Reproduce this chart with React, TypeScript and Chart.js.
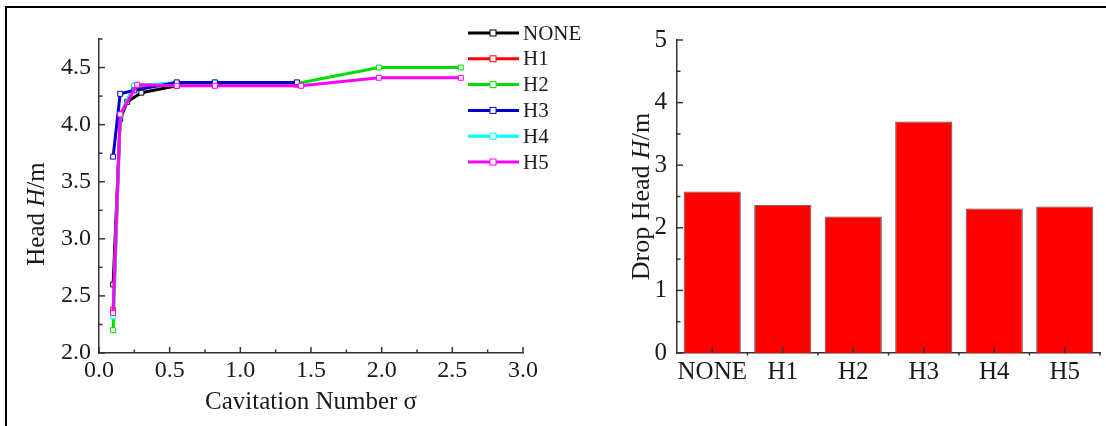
import React, { useEffect, useRef } from "react";
import { Chart, registerables } from "chart.js";
Chart.register(...registerables);

const FONT = "Liberation Serif, Times New Roman, serif";
Chart.defaults.font.family = FONT;
const TEXT = "#1a1a1a";
const AXIS = "#333333";

// ---------- left chart data ----------
const seriesNames = ["NONE", "H1", "H2", "H3", "H4", "H5"];
const seriesColors = ["#000000", "#ff0000", "#00dd00", "#0000cc", "#00ffff", "#ff00ff"];
const seriesOrder = [5, 4, 3, 1, 2, 0];

const noneSigma = [0.1, 0.15, 0.2, 0.3, 0.55, 0.82, 1.4];
const noneHead = [2.6, 4.05, 4.2, 4.28, 4.34, 4.36, 4.36];
const h1Sigma = [0.1, 0.15, 0.25, 0.55, 0.82, 1.4];
const h1Head = [2.38, 4.09, 4.33, 4.35, 4.35, 4.35];
const h2Sigma = [0.1, 0.15, 0.25, 0.55, 0.82, 1.4, 1.98, 2.56];
const h2Head = [2.2, 4.08, 4.34, 4.36, 4.36, 4.36, 4.5, 4.5];
const h3Sigma = [0.1, 0.15, 0.25, 0.55, 0.82, 1.4];
const h3Head = [3.72, 4.27, 4.3, 4.37, 4.37, 4.37];
const h4Sigma = [0.1, 0.15, 0.25, 0.55, 0.82, 1.4];
const h4Head = [2.32, 4.09, 4.34, 4.37, 4.37, 4.37];
const h5Sigma = [0.1, 0.15, 0.27, 0.55, 0.82, 1.43, 1.98, 2.56];
const h5Head = [2.35, 4.09, 4.35, 4.34, 4.34, 4.34, 4.41, 4.41];

const sigmaLists = [noneSigma, h1Sigma, h2Sigma, h3Sigma, h4Sigma, h5Sigma];
const headLists = [noneHead, h1Head, h2Head, h3Head, h4Head, h5Head];

const sigmaMin = 0;
const sigmaMax = 3;
const sigmaStep = 0.5;
const headMin = 2;
const headMax = 4.75;
const headStep = 0.5;

// ---------- right chart data ----------
const dropCategories = ["NONE", "H1", "H2", "H3", "H4", "H5"];
const dropHead = [2.58, 2.37, 2.18, 3.7, 2.31, 2.34];
const dropMin = 0;
const dropMax = 5;
const dropStep = 1;

type Part = { text: string; italic?: boolean };

function drawRich(ctx: CanvasRenderingContext2D, parts: Part[], size: number, cx: number, cy: number, rotate: boolean) {
  ctx.save();
  ctx.translate(cx, cy);
  if (rotate) ctx.rotate(-Math.PI / 2);
  const fonts = parts.map((p) => `${p.italic ? "italic " : ""}${size}px ${FONT}`);
  let total = 0;
  const widths = parts.map((p, i) => {
    ctx.font = fonts[i];
    const w = ctx.measureText(p.text).width;
    total += w;
    return w;
  });
  let x = -total / 2;
  ctx.textBaseline = "middle";
  ctx.textAlign = "left";
  ctx.fillStyle = TEXT;
  parts.forEach((p, i) => {
    ctx.font = fonts[i];
    ctx.fillText(p.text, x, 0);
    x += widths[i];
  });
  ctx.restore();
}

function line(ctx: CanvasRenderingContext2D, x1: number, y1: number, x2: number, y2: number) {
  ctx.beginPath();
  ctx.moveTo(x1, y1);
  ctx.lineTo(x2, y2);
  ctx.stroke();
}

const leftDecor = {
  id: "leftDecor",
  afterDraw(chart: any) {
    const ctx = chart.ctx as CanvasRenderingContext2D;
    const { left, right, top, bottom } = chart.chartArea;
    const xs = chart.scales.x;
    const ys = chart.scales.y;
    ctx.save();
    ctx.strokeStyle = AXIS;
    ctx.lineWidth = 1.5;
    for (let v = sigmaMin; v <= sigmaMax + 1e-9; v += sigmaStep / 2) {
      const major = Math.abs(v / sigmaStep - Math.round(v / sigmaStep)) < 1e-6;
      const p = xs.getPixelForValue(v);
      line(ctx, p, bottom, p, bottom - (major ? 6 : 3.5));
    }
    for (let v = headMin; v <= headMax + 1e-9; v += headStep / 2) {
      const major = Math.abs((v - headMin) / headStep - Math.round((v - headMin) / headStep)) < 1e-6;
      const p = ys.getPixelForValue(v);
      line(ctx, left, p, left + (major ? 6 : 3.5), p);
    }
    ctx.restore();

    drawRich(ctx, [{ text: "Head " }, { text: "H", italic: true }, { text: "/m" }], 25, left - 62, (top + bottom) / 2 + 18, true);
    drawRich(ctx, [{ text: "Cavitation Number σ" }], 25, (left + right) / 2, bottom + 49, false);

    // legend
    const lx = right - 55;
    let ly = top - 6;
    ctx.save();
    seriesNames.forEach((name, i) => {
      ctx.strokeStyle = seriesColors[i];
      ctx.lineWidth = 3;
      line(ctx, lx, ly, lx + 51, ly);
      ctx.fillStyle = "#ffffff";
      ctx.lineWidth = 1;
      ctx.fillRect(lx + 22, ly - 3, 6, 6);
      ctx.strokeRect(lx + 22, ly - 3, 6, 6);
      ctx.fillStyle = TEXT;
      ctx.font = `21px ${FONT}`;
      ctx.textAlign = "left";
      ctx.textBaseline = "middle";
      ctx.fillText(name, lx + 55, ly + 1);
      ly += 25.8;
    });
    ctx.restore();
  },
};

const rightDecor = {
  id: "rightDecor",
  afterDraw(chart: any) {
    const ctx = chart.ctx as CanvasRenderingContext2D;
    const { left, top, bottom } = chart.chartArea;
    const xs = chart.scales.x;
    const ys = chart.scales.y;
    ctx.save();
    ctx.strokeStyle = AXIS;
    ctx.lineWidth = 1.5;
    for (let v = dropMin; v <= dropMax + 1e-9; v += dropStep / 2) {
      const major = Math.abs(v - Math.round(v)) < 1e-6;
      const p = ys.getPixelForValue(v);
      line(ctx, left, p, left + (major ? 6 : 3.5), p);
    }
    for (let i = 0; i < dropCategories.length; i++) {
      const p = xs.getPixelForValue(i);
      line(ctx, p, bottom, p, bottom - 6);
      const next = i < dropCategories.length - 1 ? xs.getPixelForValue(i + 1) : p + (p - xs.getPixelForValue(i - 1));
      const b = (p + next) / 2;
      line(ctx, b, bottom, b, bottom + 2.5);
    }
    ctx.restore();
    drawRich(ctx, [{ text: "Drop Head " }, { text: "H", italic: true }, { text: "/m" }], 26, left - 35, (top + bottom) / 2, true);
  },
};

export default function App() {
  const leftRef = useRef<HTMLCanvasElement>(null);
  const rightRef = useRef<HTMLCanvasElement>(null);

  useEffect(() => {
    const datasets = seriesNames.map((name, i) => ({
      label: name,
      data: sigmaLists[i].map((s, k) => ({ x: s, y: headLists[i][k] })),
      showLine: true,
      borderColor: seriesColors[i],
      backgroundColor: seriesColors[i],
      borderWidth: 3,
      pointStyle: "rect",
      pointRadius: 3.5,
      pointBorderWidth: 1,
      pointBackgroundColor: "#ffffff",
      pointBorderColor: seriesColors[i],
      order: seriesOrder[i],
    }));

    const left = new Chart(leftRef.current as HTMLCanvasElement, {
      type: "scatter",
      data: { datasets },
      options: {
        animation: false,
        responsive: false,
        events: [],
        layout: { padding: { left: 0, top: 39, right: 77, bottom: 0 } },
        plugins: { legend: { display: false }, tooltip: { enabled: false } },
        scales: {
          x: {
            type: "linear",
            min: sigmaMin,
            max: sigmaMax,
            grid: { display: false, drawTicks: false },
            border: { display: true, color: AXIS, width: 1.5 },
            ticks: {
              stepSize: sigmaStep,
              color: TEXT,
              font: { family: FONT, size: 24 },
              padding: 3,
              maxRotation: 0,
              autoSkip: false,
              callback: (v: any) => Number(v).toFixed(1),
            },
            afterFit: (s: any) => {
              s.height = 73;
            },
          },
          y: {
            type: "linear",
            min: headMin,
            max: headMax,
            grid: { display: false, drawTicks: false },
            border: { display: true, color: AXIS, width: 1.5 },
            ticks: {
              stepSize: headStep,
              includeBounds: false,
              color: TEXT,
              font: { family: FONT, size: 24 },
              padding: 8,
              autoSkip: false,
              callback: (v: any) => Number(v).toFixed(1),
            },
            afterBuildTicks: (s: any) => {
              s.ticks = s.ticks.filter((t: any) => t.value <= 4.5 + 1e-9);
            },
            afterFit: (s: any) => {
              s.width = 99;
            },
          },
        },
      },
      plugins: [leftDecor],
    } as any);

    const right = new Chart(rightRef.current as HTMLCanvasElement, {
      type: "bar",
      data: {
        labels: dropCategories,
        datasets: [
          {
            label: "Drop Head",
            data: dropHead,
            backgroundColor: "#ff0000",
            borderColor: "#555555",
            borderWidth: 1,
            categoryPercentage: 0.81,
            barPercentage: 1,
          },
        ],
      },
      options: {
        animation: false,
        responsive: false,
        events: [],
        layout: { padding: { left: 0, top: 40, right: 6, bottom: 0 } },
        plugins: { legend: { display: false }, tooltip: { enabled: false } },
        scales: {
          x: {
            grid: { display: false, drawTicks: false },
            border: { display: true, color: AXIS, width: 1.5 },
            ticks: { color: TEXT, font: { family: FONT, size: 25 }, padding: 4, maxRotation: 0, autoSkip: false },
            afterFit: (s: any) => {
              s.height = 73;
            },
          },
          y: {
            min: dropMin,
            max: dropMax,
            grid: { display: false, drawTicks: false },
            border: { display: true, color: AXIS, width: 1.5 },
            ticks: { stepSize: dropStep, color: TEXT, font: { family: FONT, size: 25 }, padding: 10, autoSkip: false },
            afterFit: (s: any) => {
              s.width = 77;
            },
          },
        },
      },
      plugins: [rightDecor],
    } as any);

    return () => {
      left.destroy();
      right.destroy();
    };
  }, []);

  return (
    <div style={{ position: "fixed", left: 0, top: 0, width: 1106, height: 426, background: "#ffffff", overflow: "hidden" }}>
      <div style={{ position: "absolute", left: 5, top: 6, width: 1101, height: 2, background: "#000" }} />
      <div style={{ position: "absolute", left: 5, top: 6, width: 2, height: 420, background: "#000" }} />
      <canvas ref={leftRef} width={600} height={426} style={{ position: "absolute", left: 0, top: 0, width: 600, height: 426 }} />
      <canvas ref={rightRef} width={506} height={426} style={{ position: "absolute", left: 600, top: 0, width: 506, height: 426 }} />
    </div>
  );
}
